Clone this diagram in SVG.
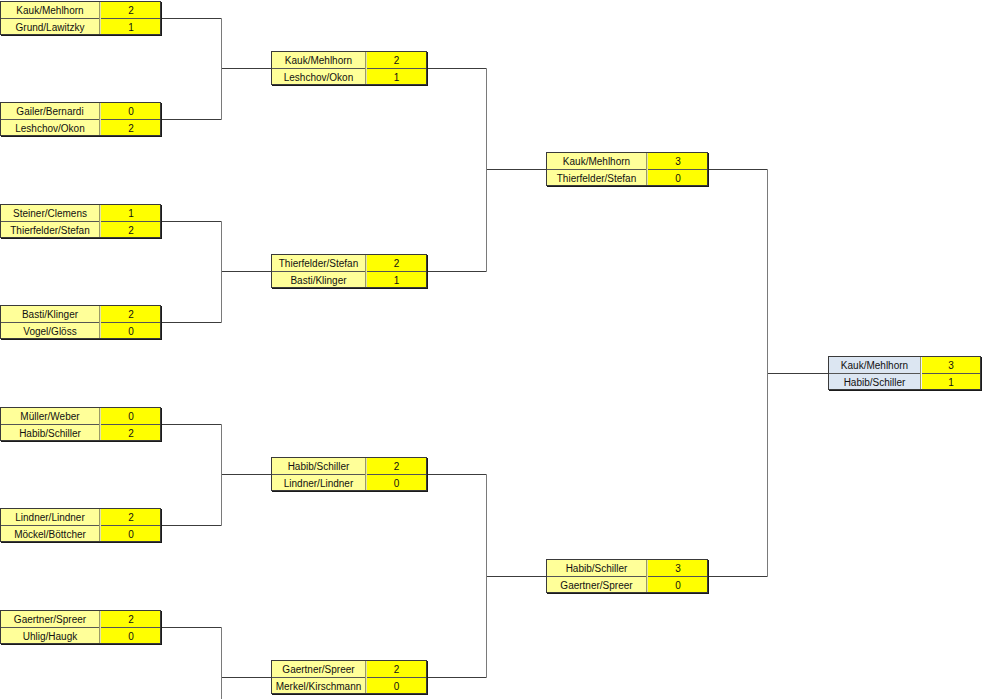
<svg xmlns="http://www.w3.org/2000/svg" width="983" height="699" viewBox="0 0 983 699">
<style>
.nm{fill:#FFFF99}
.nb{fill:#DCE6F2}
.sc{fill:#FFFF00}
.mid{stroke:#555;stroke-width:1;fill:none}
.d1{stroke:#9A9A66;stroke-width:1;fill:none}
.d2{stroke:#E4E4A8;stroke-width:1;fill:none}
.d2b{stroke:#EEF2F8;stroke-width:1;fill:none}
.bd{fill:none;stroke:#3A3A3A;stroke-width:1}
.sh{fill:none;stroke:#1A1A1A;stroke-width:1}
.t{font-family:"Liberation Sans",Arial,sans-serif;font-size:10px;fill:#111;text-anchor:middle}
.h{stroke:#3C3C3C;stroke-width:1;fill:none}
.v{stroke:#7A7A7A;stroke-width:1;fill:none}
</style>
<rect width="983" height="699" fill="#FFFFFF"/>

<g id="connectors">
<path class="h" d="M161 18.5H221.5M161 119.5H221.5M221.5 68.5H271"/>
<path class="v" d="M221.5 18.5V119.5"/>
<path class="h" d="M161 221.5H221.5M161 322.5H221.5M221.5 271.5H271"/>
<path class="v" d="M221.5 221.5V322.5"/>
<path class="h" d="M161 424.5H221.5M161 525.5H221.5M221.5 474.5H271"/>
<path class="v" d="M221.5 424.5V525.5"/>
<path class="h" d="M161 627.5H221.5M221.5 677.5H271"/>
<path class="v" d="M221.5 627.5V740"/>
<path class="h" d="M427 68.5H486.5M427 271.5H486.5M486.5 169.5H546"/>
<path class="v" d="M486.5 68.5V271.5"/>
<path class="h" d="M427 474.5H486.5M427 677.5H486.5M486.5 576.5H546"/>
<path class="v" d="M486.5 474.5V677.5"/>
<path class="h" d="M708 169.5H767.5M708 576.5H767.5M767.5 373.5H828"/>
<path class="v" d="M767.5 169.5V576.5"/>
</g>

<!-- Round 1 -->
<g id="r1m1" transform="translate(0,1)">
<rect class="nm" x="0" y="0" width="100" height="34"/><rect class="sc" x="100" y="0" width="61" height="34"/>
<path class="mid" d="M0 17.5H161"/><path class="d1" d="M99.5 0V34"/><path class="d2" d="M100.5 0V34"/>
<rect class="bd" x="0.5" y="0.5" width="160" height="33"/><path class="sh" d="M161.5 1V34.5M1 34.5H162"/>
<text class="t" x="50" y="12.5">Kauk/Mehlhorn</text><text class="t" x="131" y="12.5">2</text>
<text class="t" x="50" y="29.5">Grund/Lawitzky</text><text class="t" x="131" y="29.5">1</text>
</g>
<g id="r1m2" transform="translate(0,102)">
<rect class="nm" x="0" y="0" width="100" height="34"/><rect class="sc" x="100" y="0" width="61" height="34"/>
<path class="mid" d="M0 17.5H161"/><path class="d1" d="M99.5 0V34"/><path class="d2" d="M100.5 0V34"/>
<rect class="bd" x="0.5" y="0.5" width="160" height="33"/><path class="sh" d="M161.5 1V34.5M1 34.5H162"/>
<text class="t" x="50" y="12.5">Gailer/Bernardi</text><text class="t" x="131" y="12.5">0</text>
<text class="t" x="50" y="29.5">Leshchov/Okon</text><text class="t" x="131" y="29.5">2</text>
</g>
<g id="r1m3" transform="translate(0,204)">
<rect class="nm" x="0" y="0" width="100" height="34"/><rect class="sc" x="100" y="0" width="61" height="34"/>
<path class="mid" d="M0 17.5H161"/><path class="d1" d="M99.5 0V34"/><path class="d2" d="M100.5 0V34"/>
<rect class="bd" x="0.5" y="0.5" width="160" height="33"/><path class="sh" d="M161.5 1V34.5M1 34.5H162"/>
<text class="t" x="50" y="12.5">Steiner/Clemens</text><text class="t" x="131" y="12.5">1</text>
<text class="t" x="50" y="29.5">Thierfelder/Stefan</text><text class="t" x="131" y="29.5">2</text>
</g>
<g id="r1m4" transform="translate(0,305)">
<rect class="nm" x="0" y="0" width="100" height="34"/><rect class="sc" x="100" y="0" width="61" height="34"/>
<path class="mid" d="M0 17.5H161"/><path class="d1" d="M99.5 0V34"/><path class="d2" d="M100.5 0V34"/>
<rect class="bd" x="0.5" y="0.5" width="160" height="33"/><path class="sh" d="M161.5 1V34.5M1 34.5H162"/>
<text class="t" x="50" y="12.5">Basti/Klinger</text><text class="t" x="131" y="12.5">2</text>
<text class="t" x="50" y="29.5">Vogel/Glöss</text><text class="t" x="131" y="29.5">0</text>
</g>
<g id="r1m5" transform="translate(0,407)">
<rect class="nm" x="0" y="0" width="100" height="34"/><rect class="sc" x="100" y="0" width="61" height="34"/>
<path class="mid" d="M0 17.5H161"/><path class="d1" d="M99.5 0V34"/><path class="d2" d="M100.5 0V34"/>
<rect class="bd" x="0.5" y="0.5" width="160" height="33"/><path class="sh" d="M161.5 1V34.5M1 34.5H162"/>
<text class="t" x="50" y="12.5">Müller/Weber</text><text class="t" x="131" y="12.5">0</text>
<text class="t" x="50" y="29.5">Habib/Schiller</text><text class="t" x="131" y="29.5">2</text>
</g>
<g id="r1m6" transform="translate(0,508)">
<rect class="nm" x="0" y="0" width="100" height="34"/><rect class="sc" x="100" y="0" width="61" height="34"/>
<path class="mid" d="M0 17.5H161"/><path class="d1" d="M99.5 0V34"/><path class="d2" d="M100.5 0V34"/>
<rect class="bd" x="0.5" y="0.5" width="160" height="33"/><path class="sh" d="M161.5 1V34.5M1 34.5H162"/>
<text class="t" x="50" y="12.5">Lindner/Lindner</text><text class="t" x="131" y="12.5">2</text>
<text class="t" x="50" y="29.5">Möckel/Böttcher</text><text class="t" x="131" y="29.5">0</text>
</g>
<g id="r1m7" transform="translate(0,610)">
<rect class="nm" x="0" y="0" width="100" height="34"/><rect class="sc" x="100" y="0" width="61" height="34"/>
<path class="mid" d="M0 17.5H161"/><path class="d1" d="M99.5 0V34"/><path class="d2" d="M100.5 0V34"/>
<rect class="bd" x="0.5" y="0.5" width="160" height="33"/><path class="sh" d="M161.5 1V34.5M1 34.5H162"/>
<text class="t" x="50" y="12.5">Gaertner/Spreer</text><text class="t" x="131" y="12.5">2</text>
<text class="t" x="50" y="29.5">Uhlig/Haugk</text><text class="t" x="131" y="29.5">0</text>
</g>

<!-- Round 2 -->
<g id="r2m1" transform="translate(271,51)">
<rect class="nm" x="0" y="0" width="95" height="34"/><rect class="sc" x="95" y="0" width="61" height="34"/>
<path class="mid" d="M0 17.5H156"/><path class="d1" d="M94.5 0V34"/><path class="d2" d="M95.5 0V34"/>
<rect class="bd" x="0.5" y="0.5" width="155" height="33"/><path class="sh" d="M156.5 1V34.5M1 34.5H157"/>
<text class="t" x="47.5" y="12.5">Kauk/Mehlhorn</text><text class="t" x="125.5" y="12.5">2</text>
<text class="t" x="47.5" y="29.5">Leshchov/Okon</text><text class="t" x="125.5" y="29.5">1</text>
</g>
<g id="r2m2" transform="translate(271,254)">
<rect class="nm" x="0" y="0" width="95" height="34"/><rect class="sc" x="95" y="0" width="61" height="34"/>
<path class="mid" d="M0 17.5H156"/><path class="d1" d="M94.5 0V34"/><path class="d2" d="M95.5 0V34"/>
<rect class="bd" x="0.5" y="0.5" width="155" height="33"/><path class="sh" d="M156.5 1V34.5M1 34.5H157"/>
<text class="t" x="47.5" y="12.5">Thierfelder/Stefan</text><text class="t" x="125.5" y="12.5">2</text>
<text class="t" x="47.5" y="29.5">Basti/Klinger</text><text class="t" x="125.5" y="29.5">1</text>
</g>
<g id="r2m3" transform="translate(271,457)">
<rect class="nm" x="0" y="0" width="95" height="34"/><rect class="sc" x="95" y="0" width="61" height="34"/>
<path class="mid" d="M0 17.5H156"/><path class="d1" d="M94.5 0V34"/><path class="d2" d="M95.5 0V34"/>
<rect class="bd" x="0.5" y="0.5" width="155" height="33"/><path class="sh" d="M156.5 1V34.5M1 34.5H157"/>
<text class="t" x="47.5" y="12.5">Habib/Schiller</text><text class="t" x="125.5" y="12.5">2</text>
<text class="t" x="47.5" y="29.5">Lindner/Lindner</text><text class="t" x="125.5" y="29.5">0</text>
</g>
<g id="r2m4" transform="translate(271,660)">
<rect class="nm" x="0" y="0" width="95" height="34"/><rect class="sc" x="95" y="0" width="61" height="34"/>
<path class="mid" d="M0 17.5H156"/><path class="d1" d="M94.5 0V34"/><path class="d2" d="M95.5 0V34"/>
<rect class="bd" x="0.5" y="0.5" width="155" height="33"/><path class="sh" d="M156.5 1V34.5M1 34.5H157"/>
<text class="t" x="47.5" y="12.5">Gaertner/Spreer</text><text class="t" x="125.5" y="12.5">2</text>
<text class="t" x="47.5" y="29.5">Merkel/Kirschmann</text><text class="t" x="125.5" y="29.5">0</text>
</g>

<!-- Round 3 -->
<g id="r3m1" transform="translate(546,152)">
<rect class="nm" x="0" y="0" width="101" height="34"/><rect class="sc" x="101" y="0" width="61" height="34"/>
<path class="mid" d="M0 17.5H162"/><path class="d1" d="M100.5 0V34"/><path class="d2" d="M101.5 0V34"/>
<rect class="bd" x="0.5" y="0.5" width="161" height="33"/><path class="sh" d="M162.5 1V34.5M1 34.5H163"/>
<text class="t" x="50.5" y="12.5">Kauk/Mehlhorn</text><text class="t" x="132" y="12.5">3</text>
<text class="t" x="50.5" y="29.5">Thierfelder/Stefan</text><text class="t" x="132" y="29.5">0</text>
</g>
<g id="r3m2" transform="translate(546,559)">
<rect class="nm" x="0" y="0" width="101" height="34"/><rect class="sc" x="101" y="0" width="61" height="34"/>
<path class="mid" d="M0 17.5H162"/><path class="d1" d="M100.5 0V34"/><path class="d2" d="M101.5 0V34"/>
<rect class="bd" x="0.5" y="0.5" width="161" height="33"/><path class="sh" d="M162.5 1V34.5M1 34.5H163"/>
<text class="t" x="50.5" y="12.5">Habib/Schiller</text><text class="t" x="132" y="12.5">3</text>
<text class="t" x="50.5" y="29.5">Gaertner/Spreer</text><text class="t" x="132" y="29.5">0</text>
</g>

<!-- Final -->
<g id="final" transform="translate(828,356)">
<rect class="nb" x="0" y="0" width="93" height="34"/><rect class="sc" x="93" y="0" width="60" height="34"/>
<path class="mid" d="M0 17.5H153"/><path class="d1" d="M92.5 0V34"/><path class="d2b" d="M93.5 0V34"/>
<rect class="bd" x="0.5" y="0.5" width="152" height="33"/><path class="sh" d="M153.5 1V34.5M1 34.5H154"/>
<text class="t" x="46.5" y="12.5">Kauk/Mehlhorn</text><text class="t" x="123" y="12.5">3</text>
<text class="t" x="46.5" y="29.5">Habib/Schiller</text><text class="t" x="123" y="29.5">1</text>
</g>
</svg>
